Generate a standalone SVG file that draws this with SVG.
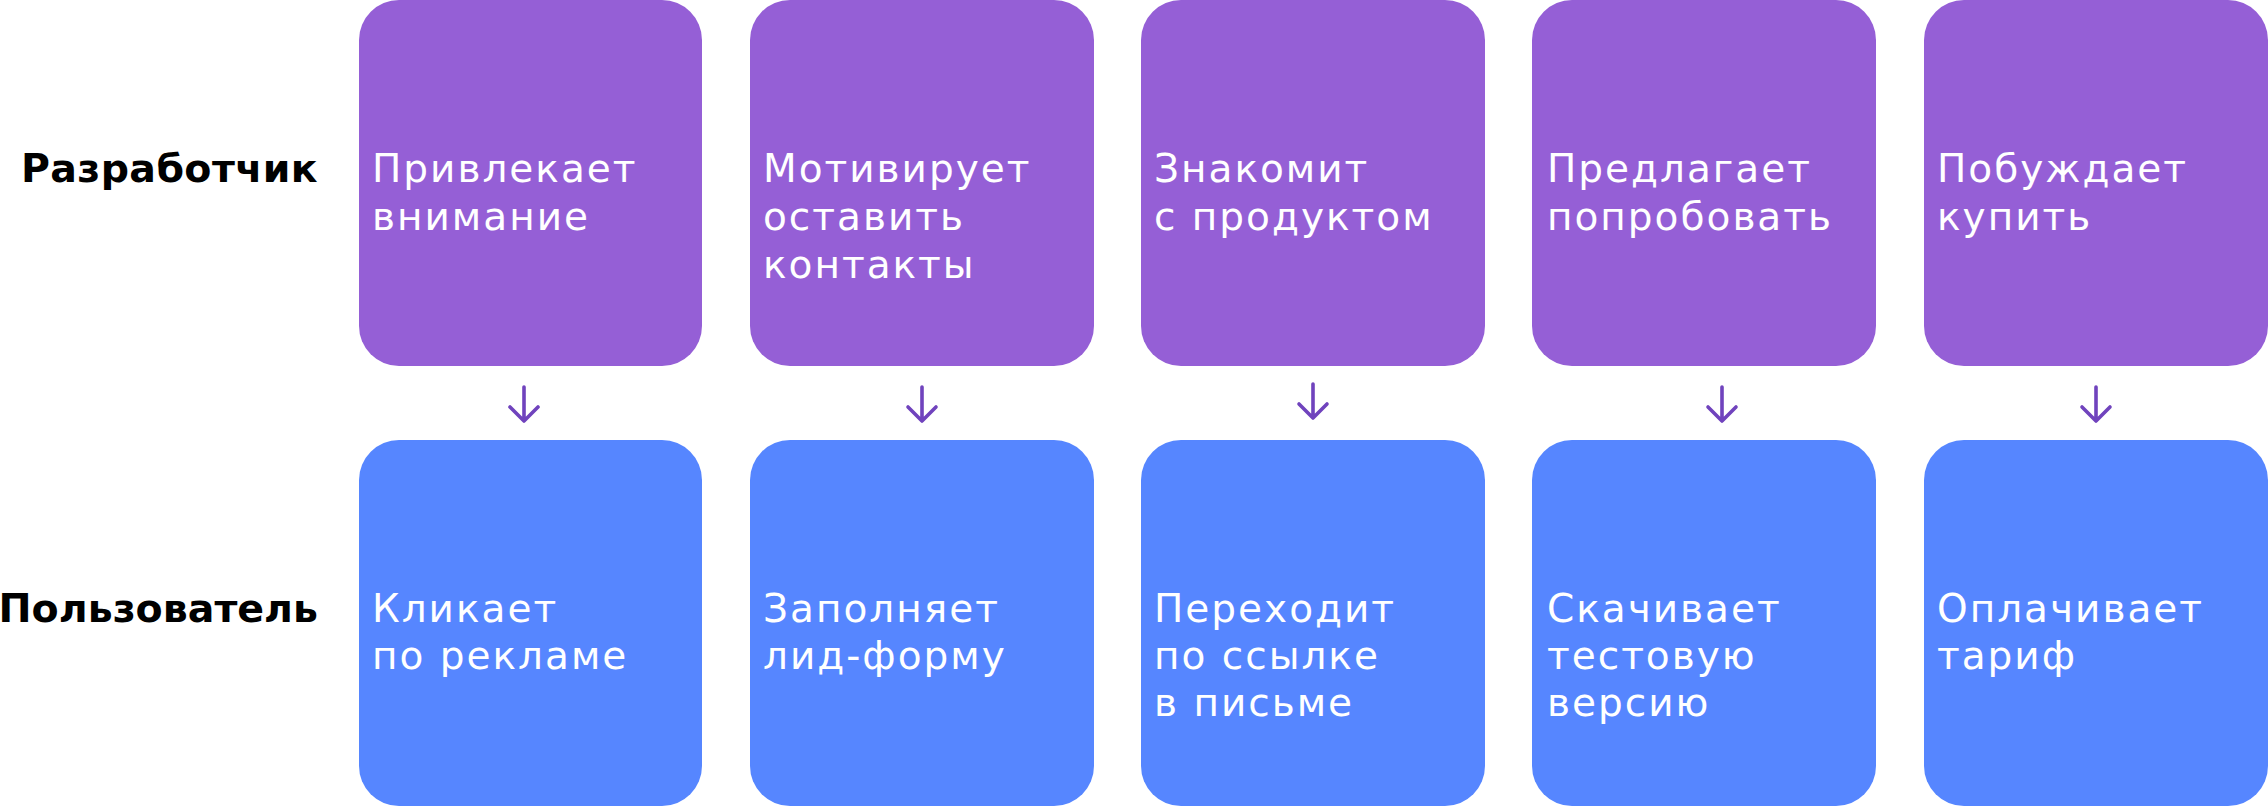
<svg xmlns="http://www.w3.org/2000/svg" width="2268" height="806" viewBox="0 0 2268 806">
  <style>
    .dev { fill: #955fd6; }
    .usr { fill: #5686ff; }
    .t { font-family: "DejaVu Sans", "Liberation Sans", sans-serif; font-size: 39px; fill: #ffffff; letter-spacing: 2px; }
    .lbl { font-family: "DejaVu Sans", "Liberation Sans", sans-serif; font-size: 39.5px; font-weight: bold; fill: #000000; text-anchor: end; }
    .arr { fill: none; stroke: #7043bd; stroke-width: 3.6; stroke-linecap: round; stroke-linejoin: round; }
  </style>
  <rect width="2268" height="806" fill="#ffffff"/>

  <g id="label-developer"><text class="lbl" x="318" y="182" letter-spacing="0.4">Разработчик</text></g>
  <g id="label-user"><text class="lbl" x="318" y="622" font-size="38.6">Пользователь</text></g>

  <g id="d1"><rect class="dev" x="359" y="0" width="343" height="366" rx="40"/>
    <text class="t" x="372" y="182">Привлекает</text><text class="t" x="372" y="230">внимание</text></g>
  <g id="d2"><rect class="dev" x="750" y="0" width="344" height="366" rx="40"/>
    <text class="t" x="763" y="182">Мотивирует</text><text class="t" x="763" y="230">оставить</text><text class="t" x="763" y="278">контакты</text></g>
  <g id="d3"><rect class="dev" x="1141" y="0" width="344" height="366" rx="40"/>
    <text class="t" x="1154" y="182">Знакомит</text><text class="t" x="1154" y="230">с продуктом</text></g>
  <g id="d4"><rect class="dev" x="1532" y="0" width="344" height="366" rx="40"/>
    <text class="t" x="1547" y="182">Предлагает</text><text class="t" x="1547" y="230">попробовать</text></g>
  <g id="d5"><rect class="dev" x="1924" y="0" width="344" height="366" rx="40"/>
    <text class="t" x="1937" y="182">Побуждает</text><text class="t" x="1937" y="230">купить</text></g>

  <g id="u1"><rect class="usr" x="359" y="440" width="343" height="366" rx="40"/>
    <text class="t" x="372" y="622">Кликает</text><text class="t" x="372" y="669">по рекламе</text></g>
  <g id="u2"><rect class="usr" x="750" y="440" width="344" height="366" rx="40"/>
    <text class="t" x="763" y="622">Заполняет</text><text class="t" x="763" y="669">лид-форму</text></g>
  <g id="u3"><rect class="usr" x="1141" y="440" width="344" height="366" rx="40"/>
    <text class="t" x="1154" y="622">Переходит</text><text class="t" x="1154" y="669">по ссылке</text><text class="t" x="1154" y="716">в письме</text></g>
  <g id="u4"><rect class="usr" x="1532" y="440" width="344" height="366" rx="40"/>
    <text class="t" x="1547" y="622">Скачивает</text><text class="t" x="1547" y="669">тестовую</text><text class="t" x="1547" y="716">версию</text></g>
  <g id="u5"><rect class="usr" x="1924" y="440" width="344" height="366" rx="40"/>
    <text class="t" x="1937" y="622">Оплачивает</text><text class="t" x="1937" y="669">тариф</text></g>

  <g id="connectors">
    <path class="arr" d="M524 387 V421 M510 407 L524 421 L538 407"/>
    <path class="arr" d="M922 387 V421 M908 407 L922 421 L936 407"/>
    <path class="arr" d="M1313 384 V418 M1299 404 L1313 418 L1327 404"/>
    <path class="arr" d="M1722 387 V421 M1708 407 L1722 421 L1736 407"/>
    <path class="arr" d="M2096 387 V421 M2082 407 L2096 421 L2110 407"/>
  </g>
</svg>
